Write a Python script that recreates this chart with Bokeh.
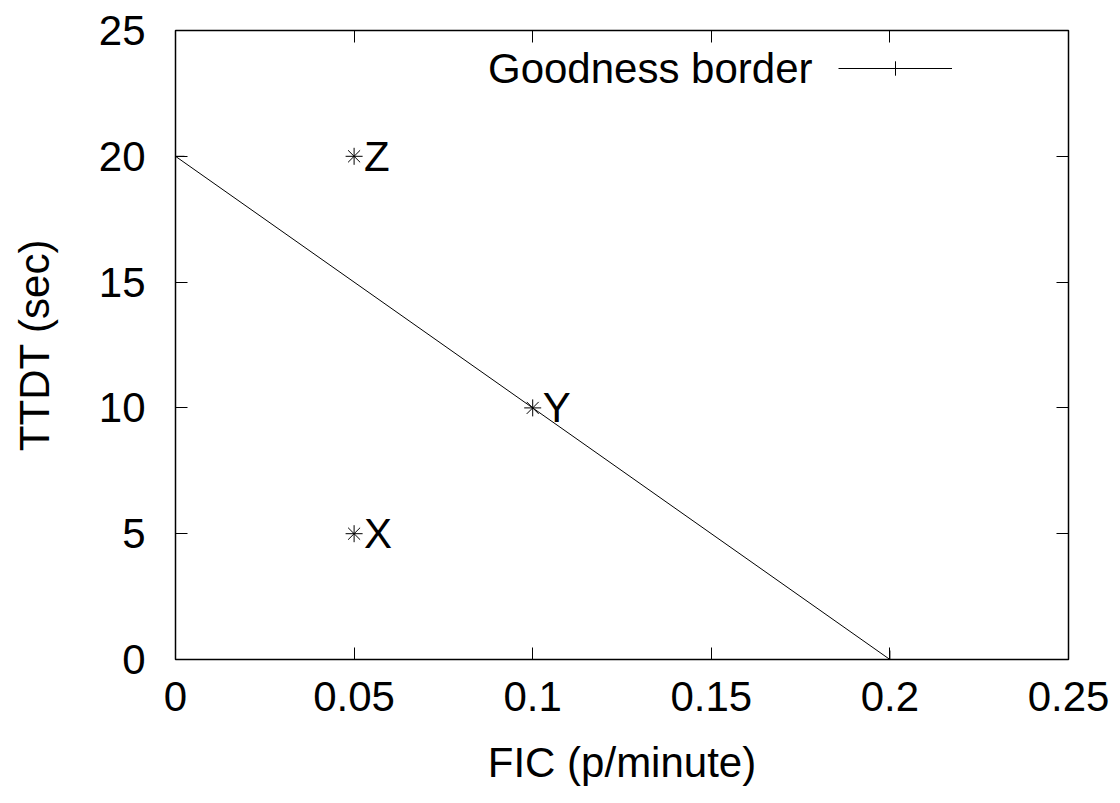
from bokeh.plotting import figure
from bokeh.models import Range1d, LinearAxis, FixedTicker, Label, Legend, LegendItem, ColumnDataSource
from bokeh.core.properties import value
from bokeh.embed import file_html
from bokeh.resources import INLINE

# Data
border_x = [0.0, 0.2]
border_y = [20.0, 0.0]
border_label = "Goodness border"

point_x = [0.05, 0.1, 0.05]
point_y = [5.0, 10.0, 20.0]
point_names = ["X", "Y", "Z"]

x_ticks = [0, 0.05, 0.1, 0.15, 0.2, 0.25]
x_tick_labels = ["0", "0.05", "0.1", "0.15", "0.2", "0.25"]
y_ticks = [0, 5, 10, 15, 20, 25]
y_tick_labels = ["0", "5", "10", "15", "20", "25"]

x_title = "FIC (p/minute)"
y_title = "TTDT (sec)"

FONT = "Liberation Sans"
FS = "42px"

p = figure(frame_width=893, frame_height=629,
           min_border_left=175, min_border_top=30, min_border_bottom=136, min_border_right=44,
           x_range=Range1d(0, 0.25), y_range=Range1d(0, 25),
           output_backend="svg", toolbar_location=None,
           background_fill_color="white", border_fill_color="white")
p.grid.visible = False
p.outline_line_color = "black"
p.outline_line_width = 1.5
p.outline_line_alpha = 1.0


def style_axis(ax, ticks, labels, show):
    ax.ticker = FixedTicker(ticks=ticks)
    ax.major_tick_in = 12
    ax.major_tick_out = 0
    ax.major_tick_line_color = "black"
    ax.major_tick_line_width = 1
    ax.minor_tick_line_color = None
    ax.axis_line_color = None
    ax.major_label_text_font = FONT
    if show:
        ax.major_label_overrides = {t: l for t, l in zip(ticks, labels)}
        ax.major_label_text_color = "black"
        ax.major_label_text_font_size = FS
    else:
        ax.major_label_text_color = None
        ax.major_label_text_alpha = 0
        ax.major_label_text_font_size = "1px"
        ax.major_label_standoff = 0


xa = p.xaxis[0]
ya = p.yaxis[0]
style_axis(xa, x_ticks, x_tick_labels, True)
style_axis(ya, y_ticks, y_tick_labels, True)
xa.major_label_standoff = 22
ya.major_label_standoff = 30
xa.axis_label = x_title
ya.axis_label = y_title
for ax in (xa, ya):
    ax.axis_label_text_font = FONT
    ax.axis_label_text_font_size = FS
    ax.axis_label_text_font_style = "normal"
    ax.axis_label_text_color = "black"
xa.axis_label_standoff = 25
ya.axis_label_standoff = 38

top = LinearAxis()
right = LinearAxis()
style_axis(top, x_ticks, x_tick_labels, False)
style_axis(right, y_ticks, y_tick_labels, False)
p.add_layout(top, "above")
p.add_layout(right, "right")

# Goodness border line with + points
line_r = p.line(border_x, border_y, line_color="black", line_width=1)
cross_r = p.scatter(border_x, border_y, marker="cross", size=18, line_color="black", line_width=1)

# Points with labels
src = ColumnDataSource(dict(x=point_x, y=point_y, name=point_names))
p.scatter("x", "y", source=src, marker="asterisk", size=17, line_color="black", line_width=1)
p.text("x", "y", text="name", source=src, x_offset=10, text_align="left", text_baseline="middle",
       text_font=value(FONT), text_font_size=FS, text_color="black")

# Legend (gnuplot style: text then sample)
legend = Legend(items=[LegendItem(label=" ", renderers=[line_r, cross_r])],
                location=(663, 573), glyph_width=114, glyph_height=36,
                label_text_font_size="1px", label_text_color=None, label_text_alpha=0,
                label_width=0, label_standoff=0,
                padding=0, margin=0, spacing=0,
                border_line_alpha=0, background_fill_alpha=0)
p.add_layout(legend, "center")
p.add_layout(Label(x=637, y=591, x_units="screen", y_units="screen", text=border_label,
                   text_align="right", text_baseline="middle",
                   text_font=FONT, text_font_size=FS, text_color="black"))

open("out.html", "w").write(file_html(p, INLINE))
